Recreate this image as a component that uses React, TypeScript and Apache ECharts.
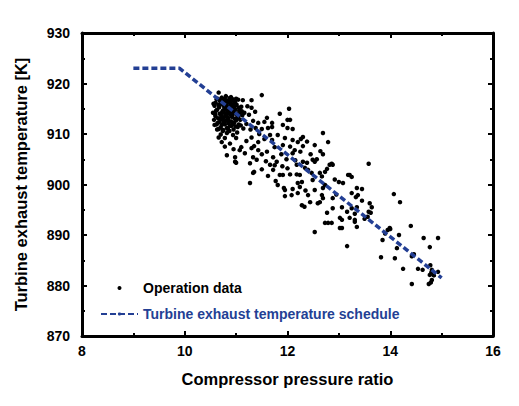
import React, { useEffect, useRef } from "react";
import * as echarts from "echarts";

// Compressor pressure ratio vs turbine exhaust temperature (operation data)
const operationData: [number, number][] = [
  // dense cluster
  [10.55, 914.2], [10.57, 912.8], [10.58, 915.6], [10.6, 913.5], [10.6, 916.2], [10.62, 911.9], [10.63, 914.8], [10.64, 917.0],
  [10.65, 913.1], [10.66, 918.2], [10.67, 915.3], [10.68, 912.4], [10.69, 916.5], [10.7, 914.0], [10.7, 911.3], [10.71, 913.6],
  [10.72, 915.9], [10.72, 917.2], [10.73, 912.9], [10.74, 914.6], [10.75, 916.8], [10.75, 910.8], [10.76, 913.3], [10.77, 915.2],
  [10.78, 911.9], [10.78, 914.1], [10.79, 916.1], [10.8, 912.6], [10.8, 917.5], [10.81, 913.8], [10.82, 915.6], [10.82, 911.2],
  [10.83, 914.4], [10.84, 916.6], [10.85, 912.1], [10.85, 913.2], [10.86, 915.0], [10.87, 917.1], [10.87, 910.6], [10.88, 913.9],
  [10.89, 916.0], [10.9, 912.5], [10.9, 914.8], [10.91, 911.6], [10.92, 915.7], [10.92, 913.4], [10.93, 916.9], [10.94, 912.0],
  [10.95, 914.3], [10.95, 910.9], [10.96, 915.3], [10.97, 913.0], [10.98, 916.3], [10.99, 911.5], [11.0, 914.0], [11.0, 912.7],
  [11.01, 915.8], [11.02, 910.3], [11.03, 913.5], [11.04, 916.8], [11.05, 911.9], [11.06, 914.6], [11.08, 912.8], [11.1, 915.4],
  [11.12, 913.7], [11.13, 916.7], [11.14, 911.1], [11.16, 914.2], [10.74, 913.0], [10.76, 915.7], [10.8, 914.9], [10.84, 913.0],
  [10.88, 915.4], [10.92, 914.1], [10.96, 912.2], [10.68, 914.0], [10.72, 911.8], [10.64, 912.2], [10.86, 916.3], [10.78, 917.0],
  [10.9, 917.3], [11.0, 917.0], [10.62, 916.9], [10.58, 911.8], [10.98, 914.9], [11.04, 913.3], [10.82, 910.2], [10.7, 909.9],
  [10.94, 909.8], [10.61, 914.6], [10.66, 915.8], [10.69, 913.0], [10.71, 916.9], [10.73, 914.3], [10.76, 912.3], [10.79, 913.5],
  [10.81, 916.4], [10.83, 912.8], [10.85, 914.7], [10.87, 912.4], [10.89, 914.3], [10.91, 916.5], [10.93, 913.8], [10.95, 915.8],
  [10.97, 914.6], [10.99, 916.8], [11.01, 913.1], [11.03, 911.4], [11.05, 915.2], [11.07, 913.9], [10.74, 910.6], [10.84, 911.0],
  [10.66, 911.0], [10.59, 913.9], [10.63, 910.9], [10.77, 916.4], [10.88, 911.6], [11.09, 911.7], [11.11, 914.5], [10.56, 916.0],
  // below the cluster
  [10.66, 909.3], [10.78, 909.2], [10.72, 908.4], [10.78, 907.5], [10.82, 905.8], [10.98, 905.4], [10.98, 904.5], [11.0, 909.2],
  [11.07, 906.8], [11.1, 907.4], [11.17, 906.2], [10.88, 908.1], [10.95, 907.0], [11.0, 904.3],
  // 11.1 - 11.8
  [11.3, 916.7], [11.5, 917.7], [11.22, 915.5], [11.3, 915.2], [11.37, 914.4], [11.25, 913.8], [11.33, 912.6], [11.43, 912.2],
  [11.2, 912.0], [11.28, 910.9], [11.38, 911.2], [11.5, 911.0], [11.55, 912.4], [11.6, 913.2], [11.62, 911.2], [11.45, 910.0],
  [11.3, 909.3], [11.43, 908.4], [11.2, 908.6], [11.35, 907.6], [11.3, 907.2], [11.43, 906.8], [11.5, 906.0], [11.33, 905.4],
  [11.27, 904.2], [11.4, 904.9], [11.35, 902.5], [11.27, 900.3], [11.33, 902.3], [11.5, 903.0], [11.55, 909.0], [11.66, 909.8],
  [11.7, 911.4], [11.7, 908.8], [11.75, 907.4], [11.72, 905.4], [11.6, 906.5], [11.66, 903.9], [11.62, 901.7], [11.58, 904.6],
  [11.72, 902.9], [11.77, 900.7], [11.81, 899.9], [11.79, 904.5], [11.75, 903.8],
  // 11.7 - 12.1
  [11.7, 912.2], [11.81, 909.8], [11.91, 911.8], [11.85, 914.0], [12.0, 912.8], [12.03, 915.0], [12.05, 912.8], [12.0, 911.2],
  [12.1, 911.0], [11.91, 907.8], [11.95, 909.2], [12.1, 908.8], [12.05, 907.5], [12.14, 906.8], [12.1, 906.2], [11.88, 906.0],
  [11.98, 905.0], [11.85, 901.9], [11.91, 901.9], [11.95, 898.9], [11.95, 897.7], [12.08, 897.9], [12.1, 899.1], [11.93, 899.3],
  [12.0, 903.2], [12.05, 902.0], [11.9, 903.6],
  // 12.1 - 12.6
  [12.18, 903.9], [12.2, 908.4], [12.3, 909.4], [12.26, 909.0], [12.3, 907.6], [12.25, 906.5], [12.38, 904.3], [12.34, 903.3],
  [12.3, 904.5], [12.4, 902.9], [12.47, 902.3], [12.49, 900.9], [12.28, 900.5], [12.2, 900.3], [12.24, 901.9], [12.18, 902.0],
  [12.24, 899.5], [12.2, 898.3], [12.4, 897.9], [12.44, 896.5], [12.28, 895.9], [12.33, 895.6], [12.53, 898.9], [12.53, 907.8],
  [12.49, 904.9], [12.57, 905.0], [12.53, 904.5], [12.45, 906.0], [12.38, 908.5], [12.59, 896.3], [12.53, 890.6], [12.35, 898.8],
  [12.15, 904.8],
  // 12.6 - 13.1
  [12.69, 910.2], [12.79, 908.4], [12.69, 906.0], [12.64, 906.6], [12.82, 903.9], [12.88, 903.9], [12.77, 903.1], [12.73, 902.5],
  [12.63, 902.3], [12.67, 901.6], [12.86, 904.1], [12.69, 899.3], [12.73, 899.9], [12.63, 896.5], [12.67, 897.9], [12.69, 897.3],
  [12.88, 897.3], [12.88, 895.3], [12.77, 894.4], [12.79, 892.4], [12.73, 892.4], [12.86, 892.4], [13.0, 900.5], [13.08, 900.3],
  [13.06, 895.5], [13.02, 893.4], [13.06, 893.0], [13.02, 891.4], [13.06, 891.4], [12.95, 898.0], [12.92, 901.0],
  // 13.1 - 13.7
  [13.18, 901.9], [13.21, 901.9], [13.25, 901.5], [13.35, 899.3], [13.25, 898.3], [13.37, 897.9], [13.45, 899.1], [13.33, 897.5],
  [13.16, 894.6], [13.25, 895.3], [13.35, 895.5], [13.31, 894.2], [13.31, 893.0], [13.21, 893.4], [13.35, 891.6], [13.31, 892.6],
  [13.16, 887.8], [13.58, 904.1], [13.6, 896.3], [13.58, 894.6], [13.64, 895.5], [13.56, 893.6], [13.62, 894.4], [13.45, 896.8],
  [13.5, 893.2],
  // 13.7 - 15
  [13.99, 891.4], [13.95, 891.0], [14.0, 891.2], [14.07, 898.1], [14.19, 896.5], [14.17, 890.0], [14.13, 887.4], [14.4, 891.8],
  [14.46, 886.2], [14.42, 885.8], [13.82, 885.6], [14.09, 885.4], [14.25, 883.3], [14.54, 883.3], [14.63, 883.1], [14.65, 889.4],
  [14.93, 889.4], [14.77, 887.6], [14.81, 883.1], [14.77, 882.1], [14.81, 881.1], [14.75, 880.3], [14.79, 880.6], [14.42, 880.3],
  [14.93, 882.7], [14.85, 882.0], [14.8, 882.6], [14.78, 884.0], [13.85, 889.0], [13.9, 890.3],
];

// Turbine exhaust temperature schedule
const scheduleX: number[] = [9.0, 9.9, 15.0];
const scheduleY: number[] = [923.0, 923.0, 881.5];

const xTicks = { min: 8, max: 16, interval: 2 };
const yTicks = { min: 870, max: 930, interval: 10 };

const FONT = "Liberation Sans, Arial, sans-serif";
const BLUE = "#233f94";

export default function App() {
  const ref = useRef<HTMLDivElement>(null);
  useEffect(() => {
    document.body.style.margin = "0";
    if (!ref.current) return;
    const chart = echarts.init(ref.current, null, { renderer: "svg" });
    const axisLine = { show: true, onZero: false, lineStyle: { color: "#000", width: 3 } };
    const axisTick = { show: true, inside: true, length: 5, lineStyle: { color: "#000", width: 2 } };
    const minorTick = { show: true, splitNumber: 2, length: 3, lineStyle: { color: "#000", width: 2 } };
    const label = { color: "#000", fontWeight: "bold" as const, fontSize: 14, fontFamily: FONT };
    const nameStyle = { color: "#000", fontWeight: "bold" as const, fontSize: 16.5, fontFamily: FONT };
    chart.setOption({
      animation: false,
      backgroundColor: "#fff",
      grid: { left: 82, right: 26, top: 33, bottom: 70 },
      legend: {
        orient: "vertical",
        left: 95,
        top: 276,
        itemWidth: 37,
        itemHeight: 4,
        itemGap: 12,
        textStyle: { fontSize: 14, fontWeight: "bold", fontFamily: FONT },
        data: [
          { name: "Operation data", textStyle: { color: "#000" } },
          { name: "Turbine exhaust temperature schedule", textStyle: { color: BLUE } },
        ],
      },
      xAxis: [
        {
          type: "value", position: "bottom", ...xTicks,
          axisLine, axisTick, minorTick, splitLine: { show: false },
          axisLabel: { ...label, margin: 8 },
          name: "Compressor pressure ratio", nameLocation: "middle", nameGap: 34, nameTextStyle: nameStyle,
        },
        {
          type: "value", position: "top", ...xTicks,
          axisLine, axisTick, minorTick, splitLine: { show: false },
          axisLabel: { show: false },
        },
      ],
      yAxis: [
        {
          type: "value", position: "left", ...yTicks,
          axisLine, axisTick, minorTick, splitLine: { show: false },
          axisLabel: { ...label, margin: 12 },
          name: "Turbine exhaust temperature [K]", nameLocation: "middle", nameGap: 53, nameTextStyle: nameStyle,
        },
        {
          type: "value", position: "right", ...yTicks,
          axisLine, axisTick, minorTick, splitLine: { show: false },
          axisLabel: { show: false },
        },
      ],
      series: [
        {
          name: "Operation data",
          type: "scatter",
          symbol: "circle",
          symbolSize: 4.5,
          itemStyle: { color: "#000", opacity: 1 },
          data: operationData,
          z: 2,
        },
        {
          name: "Turbine exhaust temperature schedule",
          type: "line",
          showSymbol: false,
          symbol: "none",
          lineStyle: { color: BLUE, width: 3.5, type: [6, 3] },
          itemStyle: { color: BLUE },
          data: scheduleX.map((x, i) => [x, scheduleY[i]]),
          z: 3,
        },
      ],
    });
    return () => chart.dispose();
  }, []);
  return <div ref={ref} style={{ width: 519, height: 406 }} />;
}
